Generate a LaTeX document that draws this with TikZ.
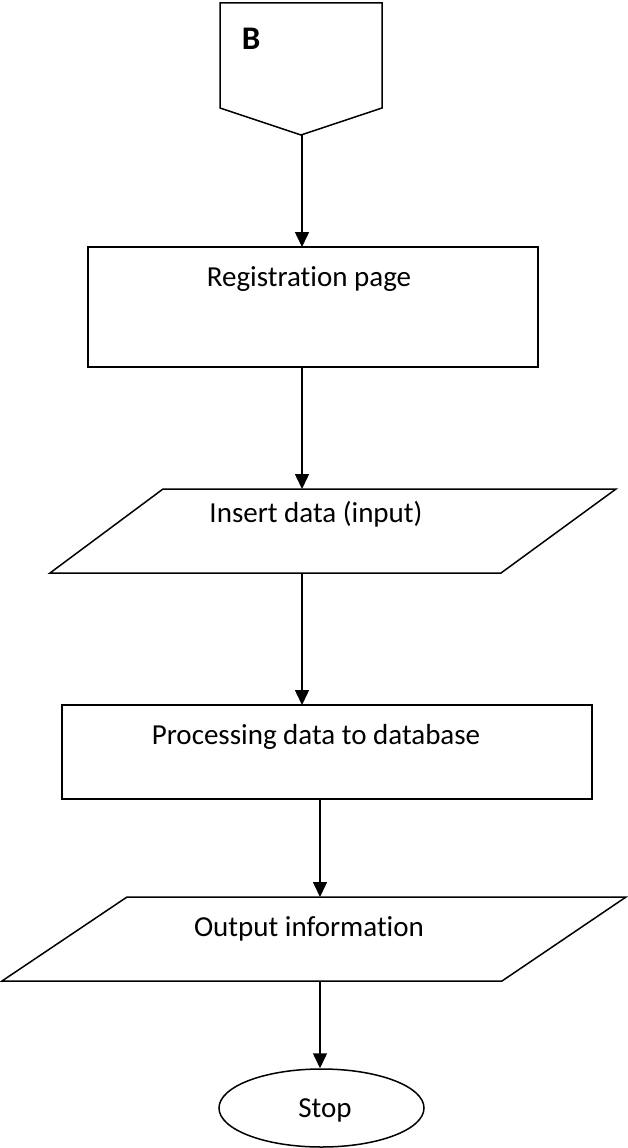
\documentclass[tikz,border=0pt]{standalone}
\usepackage{fontspec}
\setmainfont{Carlito}[Ligatures=NoCommon]
\usetikzlibrary{arrows.meta,shapes.geometric}
\begin{document}
\begin{tikzpicture}[x=1pt,y=-1pt,
  outline/.style={draw=black,line width=1.5pt,fill=white,line join=miter},
  lbl/.style={font=\fontsize{29}{35}\selectfont,inner sep=0pt,anchor=base},
  flow/.style={-{Triangle[length=15pt,width=14pt]},line width=1.5pt}]
\useasboundingbox (0,0) rectangle (627,1148);

% off-page connector B
\draw[outline] (220,3) -- (382,3) -- (382,108) -- (301,135) -- (220,108) -- cycle;
\coordinate (offtip) at (302,135);
\node[lbl,font=\fontsize{33}{38}\selectfont\bfseries] (blbl) at (251,50) {B};

% registration page
\node[outline,rectangle,minimum width=450pt,minimum height=120pt,inner sep=0pt] (reg) at (313,307) {};
\node[lbl] (reglbl) at (309,286) {Registration page};
\coordinate (regin) at (302,247);
\coordinate (regout) at (302,367);

% insert data parallelogram
\draw[outline] (163,489) -- (616,489) -- (501,573) -- (50,573) -- cycle;
\node[lbl] (inslbl) at (316,522) {Insert data (input)};
\coordinate (insin) at (302,489);
\coordinate (insout) at (302,573);

% processing box
\node[outline,rectangle,minimum width=530pt,minimum height=94pt,inner sep=0pt] (proc) at (327,752) {};
\node[lbl] (proclbl) at (316,744) {Processing data to database};
\coordinate (procin) at (302,705);
\coordinate (procout) at (320,799);

% output parallelogram
\draw[outline] (127,897) -- (626,897) -- (502,981) -- (2,981) -- cycle;
\node[lbl] (outlbl) at (309,936) {Output information};
\coordinate (outin) at (320,897);
\coordinate (outout) at (320,981);

% stop
\node[outline,ellipse,minimum width=205pt,minimum height=78pt,inner sep=0pt] (stop) at (321.5,1108) {};
\node[lbl] (stoplbl) at (325,1117) {Stop};

% connectors
\draw[flow] (offtip) -- (regin);
\draw[flow] (regout) -- (insin);
\draw[flow] (insout) -- (procin);
\draw[flow] (procout) -- (outin);
\draw[flow] (outout) -- (stop.north -| outout);
\end{tikzpicture}
\end{document}
